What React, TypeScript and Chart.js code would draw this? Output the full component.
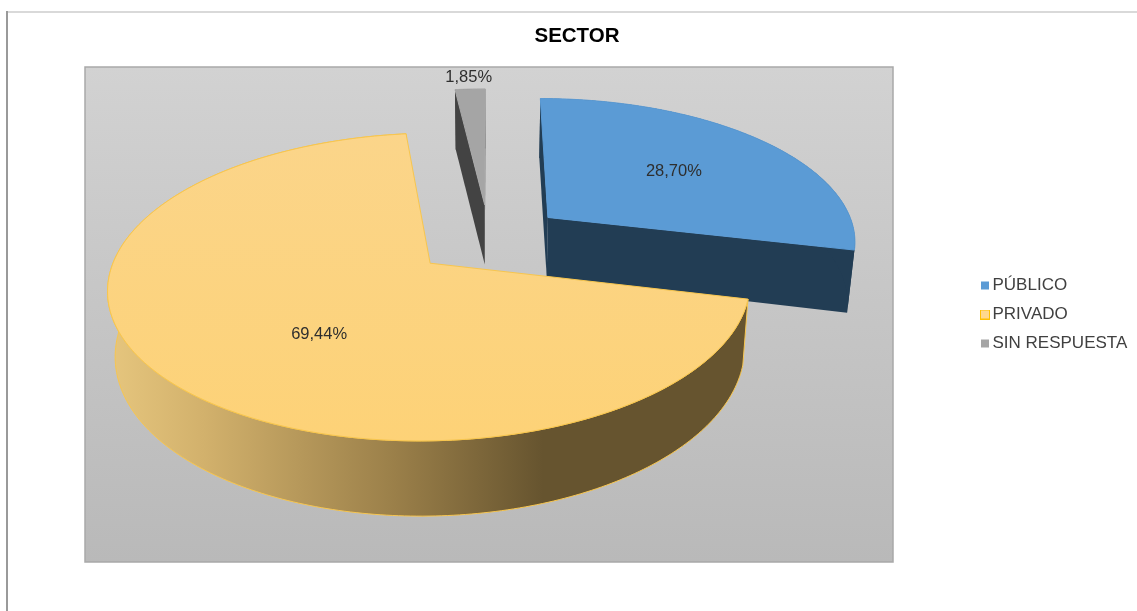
import React, { useEffect, useRef } from "react";
import { Chart, registerables } from "chart.js";

Chart.register(...registerables);

const chartTitle = "SECTOR";
const categories = ["PÚBLICO", "PRIVADO", "SIN RESPUESTA"];
const sectorValues = [28.7, 69.44, 1.85];

const FONT = "'Liberation Sans', Arial, sans-serif";
const topColors = ["#5B9BD5", "#FCD482", "#A5A5A5"];
const edgeColors = ["#5B9BD5", "#F8C64E", "#A8A8A8"];
const sideColors = ["#223D54", "#66542F", "#434343"];
const legendFill = ["#5B9BD5", "#FFD88C", "#A5A5A5"];
const legendEdge = ["#5B9BD5", "#FFC000", "#A5A5A5"];
const labelNudge: [number, number][] = [[126, -46], [-111, 71], [-16, -127]];

const VIEW = { cx: 489, cy: 239, tilt: 0.455, persp: 0.00048, squeeze: 0.985 };
const PLOT = { left: 85, top: 67, right: 893, bottom: 562 };

type Pt = [number, number];

function project(px: number, v: number): Pt {
  const f = 1 / (1 - VIEW.persp * v);
  return [VIEW.cx + px * f * VIEW.squeeze, VIEW.cy + VIEW.tilt * v * f];
}

function projectBase(px: number, v: number): Pt {
  const f = 1 / (1 - VIEW.persp * v);
  const depth = Math.max(62, 59 - 0.03 * v);
  return [VIEW.cx + px * f * VIEW.squeeze * 0.98, VIEW.cy + (VIEW.tilt * v + depth) * f];
}

function fillPoly(ctx: CanvasRenderingContext2D, pts: Pt[], fill: string | CanvasGradient, stroke?: string) {
  ctx.beginPath();
  pts.forEach((p, i) => (i ? ctx.lineTo(p[0], p[1]) : ctx.moveTo(p[0], p[1])));
  ctx.closePath();
  ctx.fillStyle = fill;
  ctx.fill();
  if (stroke) {
    ctx.strokeStyle = stroke;
    ctx.lineWidth = 1;
    ctx.stroke();
  }
}

const cross = (a: Pt, b: Pt) => a[0] * b[1] - a[1] * b[0];
const sub = (a: Pt, b: Pt): Pt => [a[0] - b[0], a[1] - b[1]];

const pie3d = {
  id: "pie3d",
  afterLayout(chart: any) {
    const legend = chart.legend;
    const w = legend.right - legend.left;
    const h = legend.bottom - legend.top;
    legend.left = 964;
    legend.right = 964 + w;
    legend.top = 265;
    legend.bottom = 265 + h;
  },
  beforeDraw(chart: any) {
    const ctx = chart.ctx as CanvasRenderingContext2D;
    ctx.save();
    ctx.fillStyle = "#FFFFFF";
    ctx.fillRect(0, 0, chart.width, chart.height);
    ctx.fillStyle = "#D9D9D9";
    ctx.fillRect(7, 11, 1130, 2);
    ctx.fillStyle = "#9A9A9A";
    ctx.fillRect(6, 11, 2, 600);
    const grad = ctx.createLinearGradient(0, PLOT.top, 0, PLOT.bottom);
    grad.addColorStop(0, "#D2D2D2");
    grad.addColorStop(1, "#B9B9B9");
    ctx.fillStyle = grad;
    ctx.fillRect(PLOT.left, PLOT.top, PLOT.right - PLOT.left, PLOT.bottom - PLOT.top);
    ctx.strokeStyle = "#A9A9A9";
    ctx.lineWidth = 1.5;
    ctx.strokeRect(PLOT.left, PLOT.top, PLOT.right - PLOT.left, PLOT.bottom - PLOT.top);
    ctx.restore();
  },
  beforeDatasetDraw(chart: any) {
    const ctx = chart.ctx as CanvasRenderingContext2D;
    const arcs = chart.getDatasetMeta(0).data as any[];
    ctx.save();
    [2, 0, 1].forEach((i) => {
      const arc = arcs[i];
      const { startAngle, endAngle, outerRadius } = arc.getProps(["startAngle", "endAngle", "outerRadius"], true);
      const offset = arc.options.offset || 0;
      const mid = (startAngle + endAngle) / 2;
      const ox = Math.cos(mid) * offset;
      const oy = Math.sin(mid) * offset;
      const steps = Math.max(2, Math.ceil((endAngle - startAngle) * 60));
      const plane: Pt[] = [];
      for (let s = 0; s <= steps; s++) {
        const a = startAngle + ((endAngle - startAngle) * s) / steps;
        plane.push([ox + Math.cos(a) * outerRadius, oy + Math.sin(a) * outerRadius]);
      }
      const rimTop = plane.map((p) => project(p[0], p[1]));
      const rimBase = plane.map((p) => projectBase(p[0], p[1]));
      const tipTop = project(ox, oy);
      const tipBase = projectBase(ox, oy);
      const midTop = rimTop[Math.floor(steps / 2)];
      const inner = sub(midTop, tipTop);
      const down = sub(tipBase, tipTop);

      [[rimTop[0], rimBase[0]], [rimTop[steps], rimBase[steps]]].forEach(([t, b]) => {
        const edge = sub(t, tipTop);
        if (cross(edge, inner) * cross(edge, down) < 0) {
          fillPoly(ctx, [tipTop, t, b, tipBase], sideColors[i]);
        }
      });

      let rimFill: string | CanvasGradient = sideColors[i];
      if (i === 1) {
        const g = ctx.createLinearGradient(108, 0, 748, 0);
        g.addColorStop(0, "#E6C67E");
        g.addColorStop(0.15, "#D2B16C");
        g.addColorStop(0.45, "#9A7F49");
        g.addColorStop(0.68, "#66542F");
        g.addColorStop(1, "#66542F");
        rimFill = g;
      }
      fillPoly(ctx, [...rimTop, ...rimBase.slice().reverse()], rimFill, i === 1 ? edgeColors[1] : undefined);

      let topFill: string | CanvasGradient = topColors[i];
      if (i === 1) {
        const g = ctx.createLinearGradient(0, 133, 0, 443);
        g.addColorStop(0, "#FBD58A");
        g.addColorStop(1, "#FDD277");
        topFill = g;
      }
      fillPoly(ctx, [tipTop, ...rimTop], topFill, edgeColors[i]);
    });
    ctx.restore();
    return false;
  },
  afterDatasetsDraw(chart: any) {
    const ctx = chart.ctx as CanvasRenderingContext2D;
    const arcs = chart.getDatasetMeta(0).data as any[];
    ctx.save();
    ctx.font = `16.5px ${FONT}`;
    ctx.fillStyle = "#2E2E2E";
    ctx.textAlign = "center";
    ctx.textBaseline = "middle";
    arcs.forEach((arc, i) => {
      const mid = (arc.startAngle + arc.endAngle) / 2;
      const off = arc.options.offset || 0;
      const tip = project(Math.cos(mid) * off, Math.sin(mid) * off);
      const text = sectorValues[i].toFixed(2).replace(".", ",") + "%";
      ctx.fillText(text, tip[0] + labelNudge[i][0], tip[1] + labelNudge[i][1]);
    });
    ctx.restore();
  },
};

function legendSwatch(i: number) {
  const c = document.createElement("canvas");
  c.width = 20;
  c.height = 10;
  const x = c.getContext("2d")!;
  if (i === 1) {
    x.fillStyle = legendEdge[i];
    x.fillRect(10, 0, 10, 10);
    x.fillStyle = legendFill[i];
    x.fillRect(11, 1, 8, 8);
  } else {
    x.fillStyle = legendFill[i];
    x.fillRect(11, 1, 8, 8);
  }
  return c;
}

export default function App() {
  const ref = useRef<HTMLCanvasElement | null>(null);
  useEffect(() => {
    const chart = new Chart(ref.current!, {
      type: "pie",
      data: {
        labels: categories,
        datasets: [
          {
            data: sectorValues,
            backgroundColor: topColors,
            borderColor: edgeColors,
            borderWidth: 0,
            offset: 78,
          },
        ],
      },
      options: {
        responsive: false,
        animation: false,
        radius: 314,
        layout: { padding: 0 },
        events: [],
        plugins: {
          tooltip: { enabled: false },
          title: {
            display: true,
            text: chartTitle,
            color: "#000000",
            font: { family: FONT, size: 20.5, weight: "bold" },
            padding: { top: 24, bottom: 10 },
          },
          legend: {
            position: "right",
            align: "start",
            labels: {
              usePointStyle: true,
              pointStyleWidth: 8,
              boxHeight: 8,
              padding: 12,
              color: "#404040",
              font: { family: FONT, size: 17 },
              generateLabels: (c: any) =>
                (Chart as any).overrides.pie.plugins.legend.labels
                  .generateLabels(c)
                  .map((item: any, i: number) => ({ ...item, pointStyle: legendSwatch(i) })),
            },
          },
        },
      } as any,
      plugins: [pie3d as any],
    });
    return () => chart.destroy();
  }, []);
  return (
    <div style={{ position: "fixed", left: 0, top: 0, width: 1137, height: 611, overflow: "hidden", background: "#fff" }}>
      <canvas ref={ref} width={1154} height={611} style={{ display: "block" }} />
    </div>
  );
}
